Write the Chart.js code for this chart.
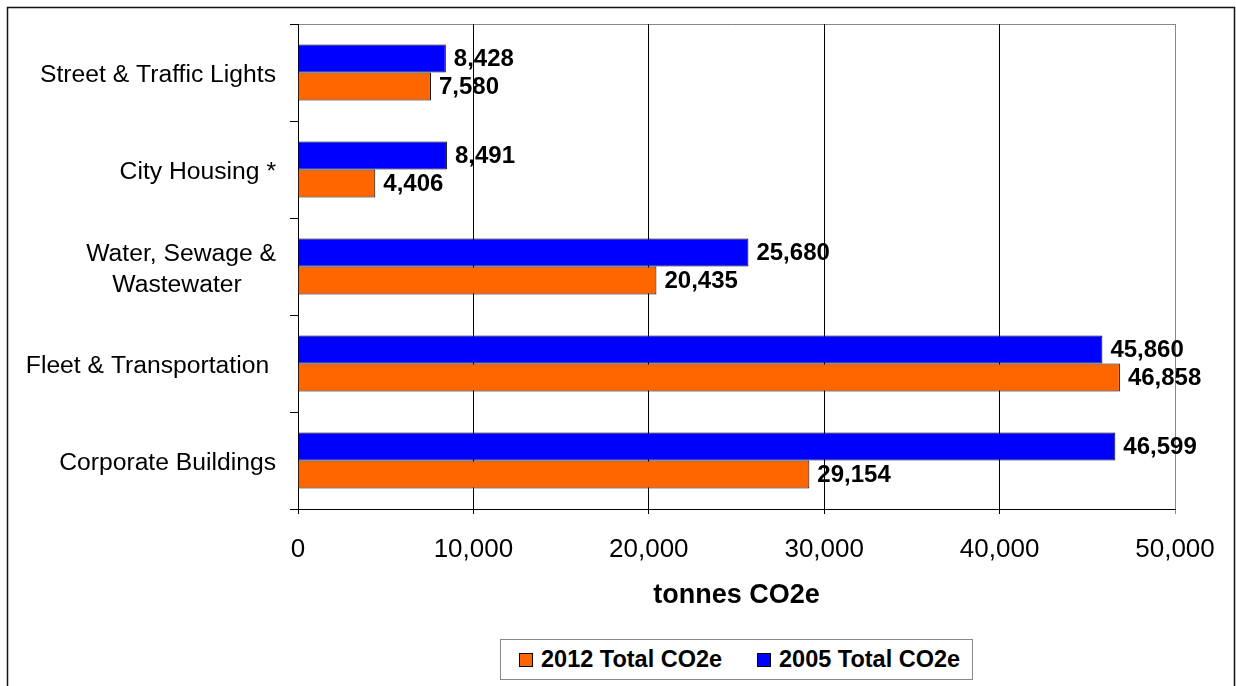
<!DOCTYPE html>
<html>
<head>
<meta charset="utf-8">
<script src="https://cdn.jsdelivr.net/npm/chart.js@4/dist/chart.umd.min.js"></script>
<style>
  html, body { margin: 0; padding: 0; background: #fff; }
  #wrap { position: relative; width: 1236px; height: 686px; }
  #legend {
    position: absolute; left: 500px; top: 639px; width: 471px; height: 39px;
    border: 1px solid #888; background: #fff;
    font: bold 23.5px "Liberation Sans", Arial, sans-serif; color: #000;
    display: flex; align-items: center;
  }
  #legend .item { display: flex; align-items: center; position: absolute; }
  #legend .swatch { width: 12px; height: 12px; border: 1px solid #000; margin-right: 8px; }
</style>
</head>
<body>
<div id="wrap">
  <canvas id="chart" width="1236" height="686"></canvas>
  <div id="legend"></div>
</div>
<script>
// Emissions by sector, tonnes CO2e
const sectors = [
  'Street & Traffic Lights',
  'City Housing *',
  ['Water, Sewage &', 'Wastewater     '],
  'Fleet & Transportation ',
  'Corporate Buildings'
];
const total2005 = [8428, 8491, 25680, 45860, 46599];
const total2012 = [7580, 4406, 20435, 46858, 29154];
const xTicks = [0, 10000, 20000, 30000, 40000, 50000];

const FONT = '"Liberation Sans", Arial, sans-serif';
const BLUE = '#0000FF';
const ORANGE = '#FF6600';

const fmt = v => v.toLocaleString('en-US');

// frame round the whole figure + grey plot-area border
const framePlugin = {
  id: 'frame',
  beforeDraw(chart) {
    const { ctx, chartArea: a } = chart;
    ctx.save();
    ctx.strokeStyle = '#111';
    ctx.lineWidth = 1.5;
    ctx.beginPath();
    ctx.moveTo(7.5, 700);
    ctx.lineTo(7.5, 7.5);
    ctx.lineTo(1234.5, 7.5);
    ctx.lineTo(1234.5, 700);
    ctx.stroke();
    ctx.strokeStyle = '#888';
    ctx.lineWidth = 1;
    ctx.beginPath();
    ctx.moveTo(a.left - 8, Math.round(a.top) + 0.5);
    ctx.lineTo(a.right + 0.5, Math.round(a.top) + 0.5);
    ctx.lineTo(a.right + 0.5, a.bottom);
    ctx.stroke();
    ctx.restore();
  }
};

// value labels at the end of each bar
const valueLabels = {
  id: 'valueLabels',
  afterDatasetsDraw(chart) {
    const { ctx } = chart;
    ctx.save();
    ctx.font = `bold 24px ${FONT}`;
    ctx.fillStyle = '#000';
    ctx.textAlign = 'left';
    ctx.textBaseline = 'middle';
    chart.data.datasets.forEach((ds, i) => {
      chart.getDatasetMeta(i).data.forEach((bar, j) => {
        ctx.fillText(fmt(ds.data[j]), bar.x + 8, bar.y + 1);
      });
    });
    ctx.restore();
  }
};

const chart = new Chart(document.getElementById('chart'), {
  type: 'bar',
  data: {
    labels: sectors,
    datasets: [
      { label: '2005 Total CO2e', data: total2005, backgroundColor: BLUE, borderColor: '#000', borderWidth: 1 },
      { label: '2012 Total CO2e', data: total2012, backgroundColor: ORANGE, borderColor: '#000', borderWidth: 1 }
    ]
  },
  options: {
    indexAxis: 'y',
    responsive: false,
    animation: false,
    events: [],
    layout: { padding: { left: 20, right: 61, top: 24, bottom: 66 } },
    datasets: { bar: { categoryPercentage: 0.578, barPercentage: 1.0 } },
    plugins: { legend: { display: false }, tooltip: { enabled: false } },
    scales: {
      x: {
        min: 0, max: 50000,
        afterBuildTicks: s => { s.ticks = xTicks.map(v => ({ value: v })); },
        afterFit: s => { s.height = 111; },
        grid: {
          color: c => (c.tick && c.tick.value === 50000 ? '#888' : '#000'),
          lineWidth: 1,
          tickLength: 5
        },
        border: { color: '#000' },
        ticks: {
          padding: 20,
          color: '#000',
          font: { family: FONT, size: 26 },
          callback: v => fmt(v)
        },
        title: {
          display: true,
          text: 'tonnes CO2e',
          color: '#000',
          font: { family: FONT, size: 27, weight: 'bold' },
          padding: { top: 0, bottom: 8 }
        }
      },
      y: {
        afterFit: s => { s.width = 278; s.paddingTop = 0; s.paddingBottom = 0; },
        grid: { drawOnChartArea: false, color: '#000', tickLength: 8 },
        border: { color: '#000' },
        ticks: {
          padding: 14,
          labelOffset: 3,
          color: '#000',
          font: { family: FONT, size: 24.7, lineHeight: 1.25 }
        }
      }
    }
  },
  plugins: [framePlugin, valueLabels]
});

// legend lists 2012 first, as in the printed report
const legendEl = document.getElementById('legend');
const legendItems = [
  { text: '2012 Total CO2e', color: ORANGE, left: 18 },
  { text: '2005 Total CO2e', color: BLUE, left: 256 }
];
legendItems.forEach(it => {
  const el = document.createElement('div');
  el.className = 'item';
  el.style.left = it.left + 'px';
  el.innerHTML = `<span class="swatch" style="background:${it.color}"></span><span>${it.text}</span>`;
  legendEl.appendChild(el);
});
</script>
</body>
</html>
